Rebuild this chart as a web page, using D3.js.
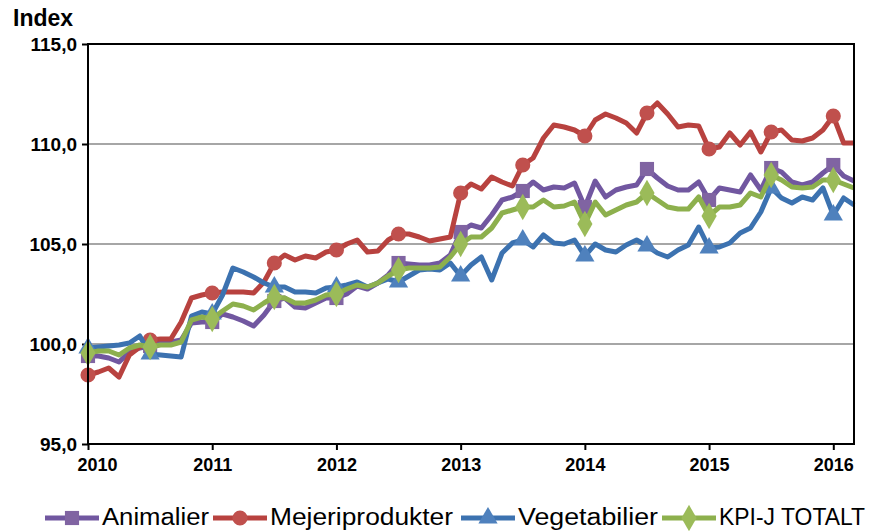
<!DOCTYPE html>
<html>
<head>
<meta charset="utf-8">
<script src="https://cdn.jsdelivr.net/npm/d3@7"></script>
<style>
  body { margin: 0; background: #fff; }
  text { font-family: "Liberation Sans", Arial, sans-serif; }
</style>
</head>
<body>
<script>
const W = 869, H = 531

// monthly, Jan 2010 .. Mar 2016
const years = ["2010", "2011", "2012", "2013", "2014", "2015", "2016"]
const yTicks = [95, 100, 105, 110, 115]

const animalier = [
  99.4, 99.4, 99.3, 99.1, 99.6, 99.8, 99.9, 100.1, 100.1, 100.2, 101.05, 101.1,
  101.1, 101.5, 101.35, 101.15, 100.9, 101.45, 102.15, 102.3, 101.85, 101.8, 102.05, 102.3,
  102.3, 102.5, 102.9, 102.75, 103.05, 103.45, 104.05, 104.0, 103.95, 103.95, 104.05, 104.45,
  105.6, 105.95, 105.8, 106.45, 107.2, 107.35, 107.65, 108.1, 107.7, 107.85, 107.8, 108.05,
  106.85, 108.15, 107.35, 107.7, 107.85, 107.95, 108.75, 108.3, 107.9, 107.7, 107.7, 108.1,
  107.2, 107.8, 107.7, 107.6, 108.45, 107.7, 108.8, 108.6, 108.1, 107.95, 108.1, 108.55,
  108.95, 108.4, 108.15]
const mejeri = [
  98.45, 98.6, 98.8, 98.35, 99.45, 99.85, 100.2, 100.25, 100.25, 101.1, 102.3, 102.45,
  102.55, 102.6, 102.6, 102.6, 102.55, 103.1, 104.05, 104.45, 104.2, 104.4, 104.3, 104.6,
  104.7, 105.0, 105.2, 104.6, 104.65, 105.2, 105.5, 105.5, 105.35, 105.15, 105.25, 105.35,
  107.55, 108.0, 107.75, 108.35, 108.1, 107.9, 108.95, 109.3, 110.3, 110.95, 110.85, 110.7,
  110.4, 111.2, 111.5, 111.3, 111.05, 110.55, 111.55, 112.05, 111.5, 110.85, 110.95, 110.9,
  109.75, 109.85, 110.55, 109.95, 110.6, 109.6, 110.6, 110.7, 110.2, 110.15, 110.3, 110.7,
  111.4, 110.05, 110.05]
const vegetabilier = [
  99.8, 99.85, 99.9, 99.95, 100.05, 100.4, 99.5, 99.45, 99.4, 99.35, 101.4, 101.6,
  101.5, 102.45, 103.8, 103.6, 103.35, 103.05, 102.85, 102.85, 102.6, 102.6, 102.55, 102.8,
  102.85, 102.95, 103.1, 102.85, 103.05, 103.25, 103.1, 103.4, 103.7, 103.75, 103.7, 104.05,
  103.4, 103.95, 104.35, 103.2, 104.55, 105.05, 105.2, 104.85, 105.45, 105.05, 105.0, 105.2,
  104.4, 105.0, 104.7, 104.6, 104.95, 105.2, 104.9, 104.55, 104.35, 104.7, 104.95, 105.85,
  104.8, 104.85, 105.05, 105.55, 105.8, 106.6, 107.8, 107.3, 107.05, 107.35, 107.2, 107.8,
  106.45, 107.3, 106.95]
const kpij = [
  99.55, 99.65, 99.65, 99.45, 99.8, 99.95, 99.85, 99.95, 99.95, 100.1, 101.2, 101.35,
  101.25, 101.65, 102.0, 101.9, 101.7, 102.05, 102.35, 102.3, 102.05, 102.05, 102.2, 102.45,
  102.5, 102.75, 102.95, 102.85, 103.05, 103.4, 103.7, 103.8, 103.8, 103.8, 103.85, 104.35,
  105.0, 105.35, 105.35, 105.8, 106.55, 106.7, 106.85, 106.85, 107.2, 106.85, 106.9, 107.1,
  106.0, 107.1, 106.45, 106.7, 106.95, 107.1, 107.55, 107.2, 106.85, 106.75, 106.75, 107.35,
  106.4, 106.85, 106.85, 106.95, 107.55, 107.35, 108.45, 108.2, 107.85, 107.8, 107.85, 108.2,
  108.2, 108.0, 107.8]

const series = [
  { name: "Animalier", values: animalier, line: "#7157A0", fill: "#8064A2", sym: d3.symbolSquare, size: 200 },
  { name: "Mejeriprodukter", values: mejeri, line: "#B8423F", fill: "#C0504D", sym: d3.symbolCircle, size: 180 },
  { name: "Vegetabilier", values: vegetabilier, line: "#3C72B0", fill: "#4F81BD", sym: d3.symbolTriangle, size: 160 },
  { name: "KPI-J TOTALT", values: kpij, line: "#8DB04D", fill: "#9BBB59", sym: d3.symbolDiamond, size: 200 }
]

const pLeft = 88, pRight = 854, pTop = 44, pBottom = 444

const x = d3.scaleLinear().domain([0, animalier.length - 1]).range([pLeft, pRight])
const y = d3.scaleLinear().domain([95, 115]).range([pBottom, pTop])

const svg = d3.select("body").append("svg").attr("width", W).attr("height", H)

// gridlines
svg.append("g").selectAll("line").data(yTicks.slice(1, -1)).join("line")
  .attr("x1", pLeft).attr("x2", pRight)
  .attr("y1", d => y(d)).attr("y2", d => y(d))
  .attr("stroke", "#A6A6A6").attr("stroke-width", 2)

const yAxis = svg.append("g").attr("transform", `translate(${pLeft},0)`)
  .call(d3.axisLeft(y).tickValues(yTicks).tickSize(6).tickFormat(d => d3.format(".1f")(d).replace(".", ",")))
yAxis.select(".domain").remove()
yAxis.selectAll("line").attr("stroke", "#000").attr("stroke-width", 2)
yAxis.selectAll("text").attr("font-size", 19).attr("font-weight", "bold").attr("fill", "#000")
  .attr("dx", -2).attr("font-family", "Liberation Sans, Arial, sans-serif")

const xAxis = svg.append("g").attr("transform", `translate(0,${pBottom})`)
  .call(d3.axisBottom(x).tickValues(years.map((d, i) => i * 12)).tickSize(6).tickFormat((d, i) => years[i]))
xAxis.select(".domain").remove()
xAxis.selectAll("line").attr("stroke", "#000").attr("stroke-width", 2)
xAxis.selectAll("text").attr("font-size", 18).attr("font-weight", "bold").attr("fill", "#000")
  .attr("y", 14).attr("dy", "0.71em").attr("font-family", "Liberation Sans, Arial, sans-serif")
  .attr("dx", (d, i) => i == 0 ? 9 : 0)

svg.append("text").attr("x", 13).attr("y", 26).text("Index")
  .attr("font-size", 23).attr("font-weight", "bold")

const line = d3.line().x((d, i) => x(i)).y(d => y(d))

series.forEach(s => {
  svg.append("path").datum(s.values).attr("d", line)
    .attr("fill", "none").attr("stroke", s.line).attr("stroke-width", 5)
    .attr("stroke-linejoin", "round")
  svg.append("g").selectAll("path")
    .data(s.values.map((v, i) => [i, v]).filter(d => d[0] % 6 == 0))
    .join("path")
    .attr("d", d3.symbol().type(s.sym).size(s.size))
    .attr("transform", d => `translate(${x(d[0])},${y(d[1])})`)
    .attr("fill", s.fill)
})

// plot frame
svg.append("rect").attr("x", pLeft).attr("y", pTop).attr("width", pRight - pLeft).attr("height", pBottom - pTop)
  .attr("fill", "none").attr("stroke", "#000").attr("stroke-width", 2)

// legend
const legX = [45, 213, 461, 662]
const legW = [107, 183, 140, 146]
const lg = svg.append("g").selectAll("g").data(series).join("g")
  .attr("transform", (d, i) => `translate(${legX[i]},518)`)
lg.append("line").attr("x1", 0).attr("x2", 54).attr("stroke", d => d.line).attr("stroke-width", 5)
lg.append("path").attr("d", d => d3.symbol().type(d.sym).size(d.size)())
  .attr("transform", "translate(27,0)").attr("fill", d => d.fill)
lg.append("text").attr("x", 57).attr("y", 7).text(d => d.name)
  .attr("font-family", "Lato, sans-serif").attr("font-size", 23).attr("fill", "#000")
  .attr("textLength", (d, i) => legW[i]).attr("lengthAdjust", "spacingAndGlyphs")
</script>
</body>
</html>
